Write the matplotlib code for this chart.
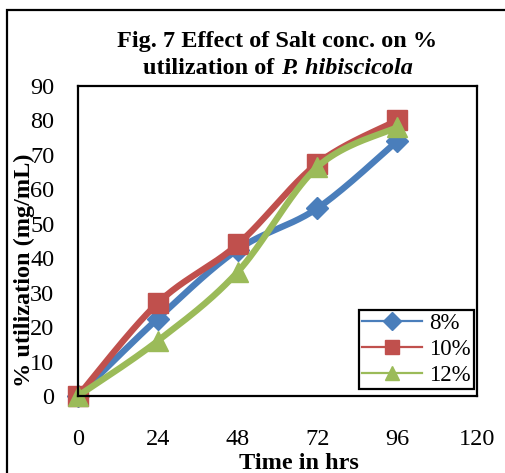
import numpy as np
import matplotlib
matplotlib.use("Agg")
import matplotlib.pyplot as plt
from matplotlib.lines import Line2D
from matplotlib.patches import Rectangle

plt.rcParams['font.family'] = ['Liberation Serif', 'DejaVu Serif']

# Data: % utilization over time for three salt concentrations
hours = [0, 24, 48, 72, 96]
salt_8 = [0, 22.5, 42.5, 54.5, 74]
salt_10 = [0, 27, 44, 67.5, 80]
salt_12 = [0, 16, 36, 66.5, 78]
series_labels = ['8%', '10%', '12%']
x_ticks = [0, 24, 48, 72, 96, 120]
y_ticks = list(range(0, 91, 10))

colors = ['#4A7EBB', '#C0504D', '#9BBB59']
markers = ['D', 's', '^']
msizes = [11, 14, 14]
FS = 17.5


def smooth_curve(xs, ys, n=40):
    """Catmull-Rom style cubic Bezier through the points (spreadsheet 'smoothed line')."""
    xs = np.asarray(xs, float)
    ys = np.asarray(ys, float)
    px = np.concatenate([[xs[0]], xs, [xs[-1]]])
    py = np.concatenate([[ys[0]], ys, [ys[-1]]])
    out_x, out_y = [], []
    t = np.linspace(0, 1, n)
    for i in range(1, len(px) - 2):
        p0 = np.array([px[i - 1], py[i - 1]])
        p1 = np.array([px[i], py[i]])
        p2 = np.array([px[i + 1], py[i + 1]])
        p3 = np.array([px[i + 2], py[i + 2]])
        c1 = p1 + (p2 - p0) / 6.0
        c2 = p2 - (p3 - p1) / 6.0
        b = ((1 - t) ** 3)[:, None] * p1 + (3 * (1 - t) ** 2 * t)[:, None] * c1 \
            + (3 * (1 - t) * t ** 2)[:, None] * c2 + (t ** 3)[:, None] * p2
        out_x.extend(b[:, 0])
        out_y.extend(b[:, 1])
    return np.array(out_x), np.array(out_y)


W, H = 505, 473
fig = plt.figure(figsize=(W / 100, H / 100), dpi=100)
fig.patch.set_facecolor('white')

# Outer chart border (runs past the right and bottom edges)
fig.patches.append(Rectangle((7 / W, -0.2), 2.0, 1.2 - 10 / H,
                             transform=fig.transFigure, fill=False,
                             edgecolor='black', linewidth=1.6, zorder=0))

ax = fig.add_axes([78 / W, 1 - 396 / H, (477 - 78) / W, (396 - 86) / H])
ax.set_xlim(0, 120)
ax.set_ylim(0, 90)

for ys, c, m, ms in zip([salt_8, salt_10, salt_12], colors, markers, msizes):
    sx, sy = smooth_curve(hours, ys)
    ax.plot(sx, sy, color=c, lw=4.6, solid_capstyle='round', clip_on=False)
    ax.plot(hours, ys, linestyle='none', marker=m, markersize=ms,
            color=c, markeredgecolor=c, clip_on=False)

for sp in ax.spines.values():
    sp.set_linewidth(1.6)
    sp.set_color('black')

ax.set_xticks(x_ticks)
ax.set_yticks(y_ticks)
ax.tick_params(axis='both', length=0, labelsize=FS)
ax.tick_params(axis='x', pad=24)
ax.tick_params(axis='y', pad=17)

# Title, first line
fig.text(277 / W, 1 - 42 / H, 'Fig. 7 Effect of Salt conc. on %',
         ha='center', va='center', fontsize=FS, fontweight='bold')

# Title, second line: bold text followed by bold-italic species name
renderer = fig.canvas.get_renderer()
t1 = fig.text(0, 1 - 69 / H, 'utilization of ', ha='left', va='center',
              fontsize=FS, fontweight='bold')
t2 = fig.text(0, 1 - 69 / H, 'P. hibiscicola', ha='left', va='center',
              fontsize=FS, fontweight='bold', fontstyle='italic')
w1 = t1.get_window_extent(renderer).width
w2 = t2.get_window_extent(renderer).width
x0 = 278 - (w1 + w2) / 2
t1.set_x(x0 / W)
t2.set_x((x0 + w1) / W)

fig.text(24 / W, 1 - 270 / H, '% utilization (mg/mL)', rotation=90,
         ha='center', va='center', fontsize=FS, fontweight='bold')
fig.text(299 / W, 1 - 463 / H, 'Time in hrs',
         ha='center', va='center', fontsize=FS, fontweight='bold')

handles = [Line2D([0], [0], color=c, lw=1.6, marker=m, markersize=s,
                  markeredgecolor=c)
           for c, m, s in zip(colors, markers, [9, 10, 10])]
leg = fig.legend(handles, series_labels, loc='lower right',
                 bbox_to_anchor=(474 / W, 1 - 389 / H), fontsize=16.5,
                 frameon=True, fancybox=False, framealpha=1,
                 edgecolor='black', handlelength=2.6, handletextpad=0.3,
                 borderpad=0.15, labelspacing=0.2, borderaxespad=0)
leg.get_frame().set_linewidth(1.6)

fig.savefig('out.png', dpi=100)
